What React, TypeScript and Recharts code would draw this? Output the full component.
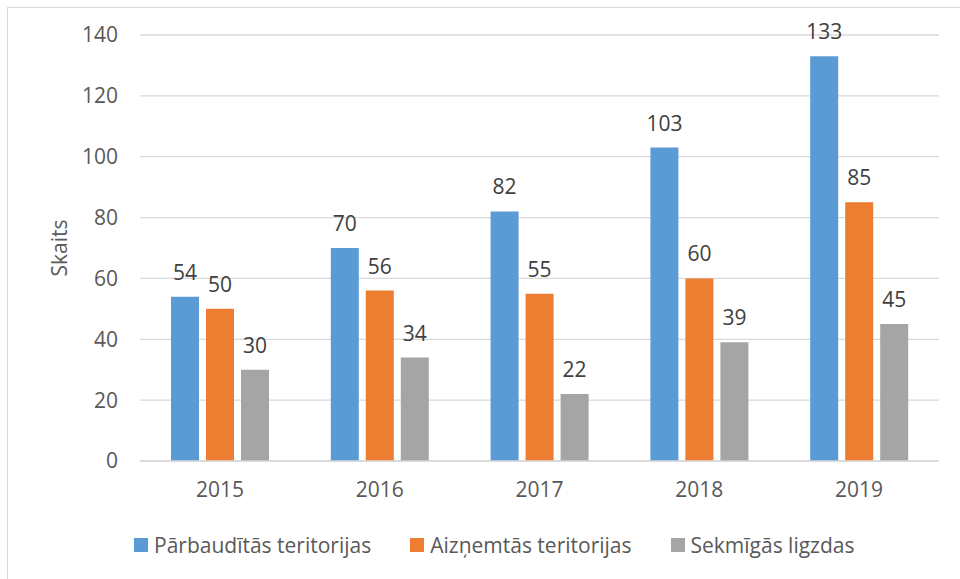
import React from 'react';
import { BarChart, Bar, XAxis, YAxis, CartesianGrid, Legend, LabelList } from 'recharts';

const years = ['2015', '2016', '2017', '2018', '2019'];
const checkedTerritories = [54, 70, 82, 103, 133];
const occupiedTerritories = [50, 56, 55, 60, 85];
const successfulNests = [30, 34, 22, 39, 45];
const yTicks = [0, 20, 40, 60, 80, 100, 120, 140];
const seriesNames = ['Pārbaudītās teritorijas', 'Aizņemtās teritorijas', 'Sekmīgās ligzdas'];
const seriesKeys = ['a', 'b', 'c'];
const colors = ['#5B9BD5', '#ED7D31', '#A5A5A5'];
const yAxisTitle = 'Skaits';

const data = years.map((y, i) => ({
  year: y,
  a: checkedTerritories[i],
  b: occupiedTerritories[i],
  c: successfulNests[i],
}));

const FONT = "'Open Sans', sans-serif";
const FS = 21;

const LegendContent = () => (
  <div style={{ display: 'flex', alignItems: 'center', height: 40, paddingLeft: 134, fontFamily: FONT, fontSize: FS, color: '#595959' }}>
    {seriesNames.map((n, i) => (
      <div key={n} style={{ display: 'flex', alignItems: 'center', marginRight: 39 }}>
        <div style={{ width: 14, height: 14, background: colors[i], marginRight: 6 }} />
        <span style={{ lineHeight: '21px' }}>{n}</span>
      </div>
    ))}
  </div>
);

export default function App() {
  return (
    <div style={{ position: 'absolute', left: 0, top: 0, width: 960, height: 579, overflow: 'hidden', background: '#fff' }}>
      <div style={{ position: 'absolute', left: 7, top: 7, width: 1000, height: 1000, borderTop: '1px solid #d9d9d9', borderLeft: '1px solid #d9d9d9' }} />
      <div style={{ position: 'absolute', left: 0, top: 0 }}>
        <BarChart width={960} height={579} data={data} margin={{ top: 35, right: 21, left: 20, bottom: 38 }} barSize={28} barGap={7}>
          <CartesianGrid vertical={false} stroke="#d9d9d9" strokeWidth={1.3} />
          <XAxis
            dataKey="year"
            axisLine={{ stroke: '#d9d9d9', strokeWidth: 1.3 }}
            tickLine={false}
            tickMargin={15}
            height={40}
            tick={{ fill: '#595959', fontSize: FS, fontFamily: FONT }}
          />
          <YAxis
            domain={[0, 140]}
            ticks={yTicks}
            width={120}
            axisLine={false}
            tickLine={false}
            tickMargin={16}
            tick={{ fill: '#595959', fontSize: FS, fontFamily: FONT }}
            label={{
              value: yAxisTitle,
              angle: -90,
              position: 'insideLeft',
              offset: 40,
              style: { textAnchor: 'middle', fill: '#595959', fontSize: FS, fontFamily: FONT },
            }}
          />
          <Legend
            verticalAlign="bottom"
            content={<LegendContent />}
            wrapperStyle={{ top: 525, bottom: 'auto', left: 0, width: 960, height: 40 }}
          />
          {seriesKeys.map((k, i) => (
            <Bar key={k} dataKey={k} name={seriesNames[i]} fill={colors[i]} isAnimationActive={false}>
              <LabelList dataKey={k} position="top" offset={17} fill="#404040" fontSize={FS} fontFamily={FONT} />
            </Bar>
          ))}
        </BarChart>
      </div>
    </div>
  );
}
